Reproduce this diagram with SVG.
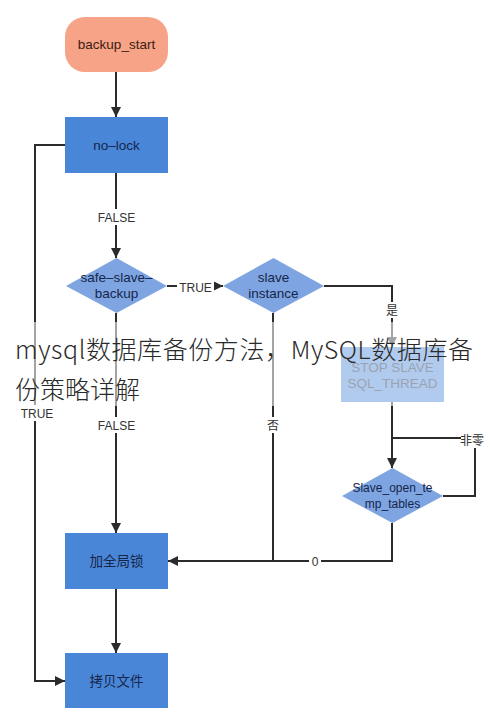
<svg xmlns="http://www.w3.org/2000/svg" width="490" height="723" viewBox="0 0 490 723">
<defs>
<marker id="arr" viewBox="0 0 10 10" refX="10" refY="5" markerWidth="11" markerHeight="10" markerUnits="userSpaceOnUse" orient="auto">
<path d="M0,0 L10,5 L0,10 z" fill="#2b2b2b"/>
</marker>
<style>
.rect{fill:#4a86d8;}
.dia{fill:#7ea5e2;}
.nt{font-family:"Liberation Sans",Arial,"Noto Sans CJK SC",sans-serif;font-size:13.5px;fill:#15264a;text-anchor:middle;}
.ln{fill:none;stroke:#2b2b2b;stroke-width:2;}
.lb{font-family:"Liberation Sans",Arial,"Noto Sans CJK SC",sans-serif;font-size:12px;fill:#333;text-anchor:middle;}
.lbg{fill:#fff;}
</style>
</defs>
<rect width="490" height="723" fill="#fff"/>

<g id="connectors">
<path class="ln" d="M116,72 V117" marker-end="url(#arr)"/>
<path class="ln" d="M116,173 V258" marker-end="url(#arr)"/>
<path class="ln" d="M65,145 H35 V681 H65" marker-end="url(#arr)"/>
<path class="ln" d="M167,286 H223" marker-end="url(#arr)"/>
<path class="ln" d="M116,313 V533" marker-end="url(#arr)"/>
<path class="ln" d="M324,286 H392 V347" marker-end="url(#arr)"/>
<path class="ln" d="M273,313 V561"/>
<path class="ln" d="M392,402 V468" marker-end="url(#arr)"/>
<path class="ln" d="M443,496 H475 V438 H392"/>
<path class="ln" d="M392,523 V561 H168" marker-end="url(#arr)"/>
<path class="ln" d="M116,589 V653" marker-end="url(#arr)"/>
<g id="edge-labels">
<rect class="lbg" x="96" y="209" width="41" height="16"/><text class="lb" x="116.5" y="221.5">FALSE</text>
<rect class="lbg" x="18" y="405" width="38" height="16"/><text class="lb" x="37" y="417.5">TRUE</text>
<rect class="lbg" x="177" y="279" width="37" height="16"/><text class="lb" x="195.5" y="291.5">TRUE</text>
<rect class="lbg" x="96" y="417" width="41" height="16"/><text class="lb" x="116.5" y="429.5">FALSE</text>
<rect class="lbg" x="384" y="302" width="16" height="16"/><text class="lb" x="392" y="314.5">是</text>
<rect class="lbg" x="265" y="417" width="16" height="16"/><text class="lb" x="273" y="429.5">否</text>
<rect class="lbg" x="461" y="432" width="22" height="16"/><text class="lb" x="472" y="444.5">非零</text>
<rect class="lbg" x="309" y="553" width="12" height="16"/><text class="lb" x="315" y="565.5">0</text>
</g>
</g>

<g id="backup_start">
<rect x="65" y="17" width="103" height="55" rx="20" ry="20" fill="#f6a387"/>
<text class="nt" x="116.5" y="49" style="fill:#3b1c12">backup_start</text>
</g>
<g id="no-lock">
<rect class="rect" x="65" y="117" width="103" height="56"/>
<text class="nt" x="116.5" y="150">no–lock</text>
</g>
<g id="safe-slave-backup">
<polygon class="dia" points="116.5,258 167,286 116.5,313 66,286"/>
<text class="nt" x="116.5" y="282">safe–slave–</text>
<text class="nt" x="116.5" y="298">backup</text>
</g>
<g id="slave-instance">
<polygon class="dia" points="273.5,258 324,286 273.5,313 223,286"/>
<text class="nt" x="273.5" y="282">slave</text>
<text class="nt" x="273.5" y="298">instance</text>
</g>
<g id="stop-slave">
<rect class="rect" x="341" y="347" width="103" height="55"/>
<text class="nt" x="392.5" y="372">STOP SLAVE</text>
<text class="nt" x="392.5" y="388">SQL_THREAD</text>
</g>
<g id="slave-open-temp-tables">
<polygon class="dia" points="392.5,468 443,496 392.5,523 342,496"/>
<text class="nt" x="392.5" y="492" style="font-size:12px">Slave_open_te</text>
<text class="nt" x="392.5" y="508" style="font-size:12px">mp_tables</text>
</g>
<g id="global-lock">
<rect class="rect" x="65" y="533" width="103" height="56"/>
<text class="nt" x="116.5" y="566" style="font-family:'Noto Sans CJK SC',sans-serif">加全局锁</text>
</g>
<g id="copy-files">
<rect class="rect" x="65" y="653" width="103" height="55"/>
<text class="nt" x="116.5" y="685.5" style="font-family:'Noto Sans CJK SC',sans-serif">拷贝文件</text>
</g>

<g id="overlay">
<rect x="0" y="322" width="490" height="84" fill="#fff" fill-opacity="0.57"/>
<text x="15" y="359" textLength="458" lengthAdjust="spacing" style="font-family:'Noto Sans CJK SC',sans-serif;font-size:25px;font-weight:300;fill:#2a2a2a">mysql数据库备份方法，MySQL数据库备</text>
<text x="15" y="399" style="font-family:'Noto Sans CJK SC',sans-serif;font-size:25px;font-weight:300;fill:#2a2a2a">份策略详解</text>
</g>
</svg>
